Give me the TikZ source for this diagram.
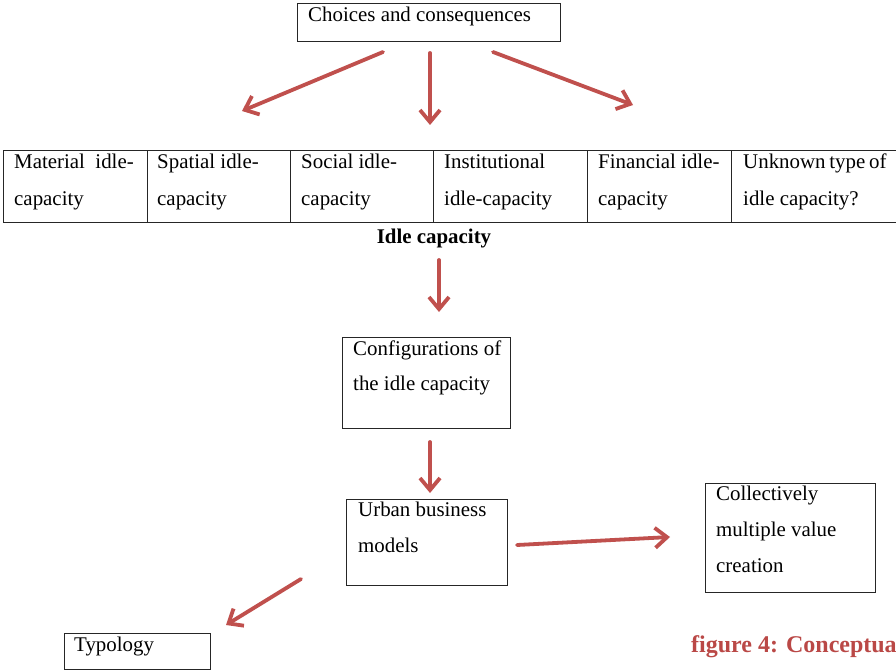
\documentclass[tikz,border=0pt]{standalone}
\usepackage{fontspec}
\setmainfont{Liberation Serif}
\usetikzlibrary{arrows.meta}
\definecolor{arrred}{RGB}{192,80,77}
\definecolor{capred}{RGB}{186,72,70}
\newcommand{\boxlines}[1]{\parbox[t]{240pt}{\raggedright #1}}
\begin{document}
\begin{tikzpicture}[x=1pt,y=-1pt,
  box/.style={draw=black!85, line width=1.3pt, rectangle, inner sep=0pt, anchor=north west},
  txt/.style={anchor=base west, inner sep=0pt, font=\fontsize{20.9}{36}\selectfont},
  tabtxt/.style={anchor=base west, inner sep=0pt, font=\fontsize{20.9}{37}\selectfont},
  conn/.style={draw=arrred, line width=3.8pt, line cap=round, -{Straight Barb[length=12pt,width=20pt]}},
]
\clip (0,0) rectangle (896,671);
\fill[white] (0,0) rectangle (896,671);

% top box
\node[box, minimum width=263pt, minimum height=38pt] (top) at (297,3) {};
\node[txt] (toptxt) at (308,22) {Choices and consequences};

% table cells
\node[box, minimum width=144pt, minimum height=72pt] (c1) at (3,150) {};
\node[box, minimum width=143pt, minimum height=72pt] (c2) at (147,150) {};
\node[box, minimum width=143pt, minimum height=72pt] (c3) at (290,150) {};
\node[box, minimum width=154pt, minimum height=72pt] (c4) at (433,150) {};
\node[box, minimum width=144pt, minimum height=72pt] (c5) at (587,150) {};
\node[box, minimum width=172pt, minimum height=72pt] (c6) at (731,150) {};

\node[tabtxt] (t1) at (14,168) {\boxlines{Material\hspace{0.5em}idle-\\capacity}};
\node[tabtxt] (t2) at (157,168) {\boxlines{Spatial idle-\\capacity}};
\node[tabtxt] (t3) at (301,168) {\boxlines{Social idle-\\capacity}};
\node[tabtxt] (t4) at (444,168) {\boxlines{Institutional\\idle-capacity}};
\node[tabtxt] (t5) at (598,168) {\boxlines{Financial idle-\\capacity}};
\node[tabtxt] (t6) at (743,168) {\boxlines{Unknown\hspace{0.18em}type\hspace{0.18em}of\\idle capacity?}};

\node[anchor=base, inner sep=0pt, font=\fontsize{20.9}{36}\selectfont\bfseries] (idle) at (434,243) {Idle capacity};

% configurations
\node[box, minimum width=168pt, minimum height=91pt] (cfg) at (342,337) {};
\node[txt] (cfgtxt) at (353,355) {\fontsize{20.9}{35}\selectfont\boxlines{Configurations of\\the idle capacity}};

% urban business models
\node[box, minimum width=161pt, minimum height=86pt] (ubm) at (346,499) {};
\node[txt] (ubmtxt) at (358,516) {\boxlines{Urban business\\models}};

% collectively
\node[box, minimum width=170pt, minimum height=109pt] (cmv) at (705,483) {};
\node[txt] (cmvtxt) at (716,500) {\boxlines{Collectively\\multiple value\\creation}};

% typology
\node[box, minimum width=146pt, minimum height=36pt] (typ) at (64,633) {};
\node[txt] (typtxt) at (74,651) {Typology};

% caption
\node[anchor=base west, inner sep=0pt, font=\fontsize{24}{28}\selectfont\bfseries, text=capred] (cap) at (691,652) {figure 4: Conceptua};

% arrows
\coordinate (a1s) at (383,52); \coordinate (a1e) at (242,111);
\coordinate (a2s) at (430,53); \coordinate (a2e) at (430,125);
\coordinate (a3s) at (493,52); \coordinate (a3e) at (633,105);
\coordinate (a4s) at (439,260); \coordinate (a4e) at (439,312);
\coordinate (a5s) at (430,442); \coordinate (a5e) at (430,493);
\coordinate (a6s) at (517,545); \coordinate (a6e) at (670,537);
\coordinate (a7s) at (301,579); \coordinate (a7e) at (226,625);
\draw[conn] (a1s) -- (a1e);
\draw[conn] (a2s) -- (a2e);
\draw[conn] (a3s) -- (a3e);
\draw[conn] (a4s) -- (a4e);
\draw[conn] (a5s) -- (a5e);
\draw[conn] (a6s) -- (a6e);
\draw[conn] (a7s) -- (a7e);
\end{tikzpicture}
\end{document}
